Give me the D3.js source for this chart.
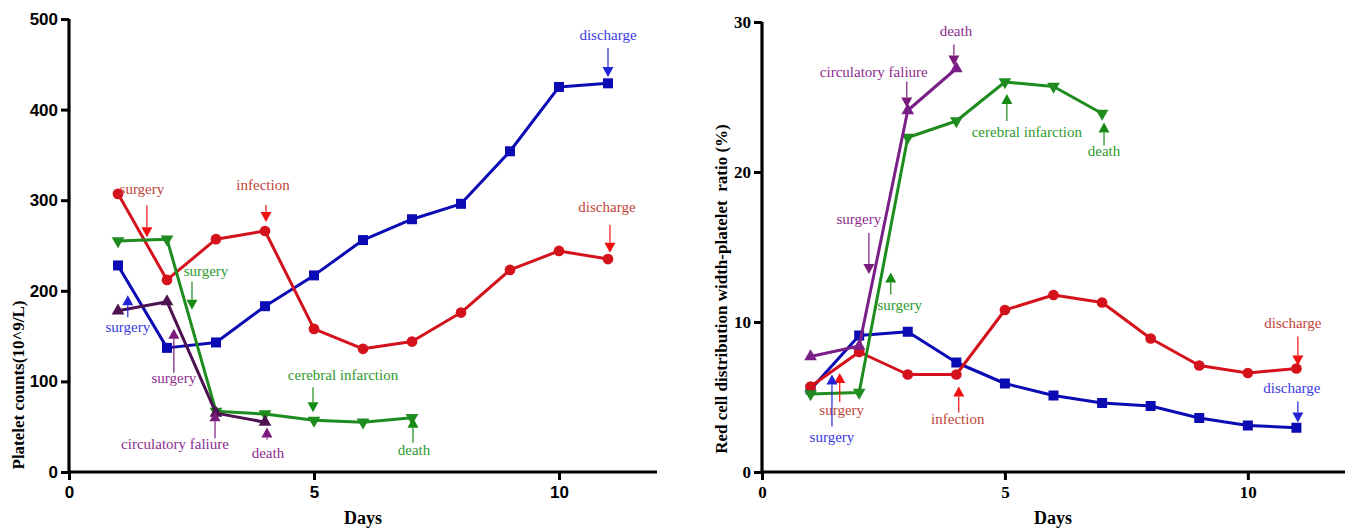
<!DOCTYPE html>
<html>
<head>
<meta charset="utf-8">
<script src="https://cdn.jsdelivr.net/npm/d3@7"></script>
<style>
  body { margin: 0; background: #fff; }
  svg text { font-family: "Liberation Serif", "Times New Roman", serif; }
</style>
</head>
<body>
<div id="chart"></div>
<script>
// ---- data ----
const days = [1, 2, 3, 4, 5, 6, 7, 8, 9, 10, 11];

// platelet counts (10^9/L)
const pltRed    = [307, 212, 257, 266, 158, 136, 144, 176, 223, 244, 235];
const pltBlue   = [228, 137, 143, 183, 217, 256, 279, 296, 354, 425, 429];
const pltGreen  = [255, 257, 67, 64, 57, 55, 60];
const pltPurple = [178, 188, 65, 55];

// RPR (%)
const rprRed    = [5.7, 8.0, 6.5, 6.5, 10.8, 11.8, 11.3, 8.9, 7.1, 6.6, 6.9];
const rprBlue   = [5.5, 9.1, 9.35, 7.3, 5.9, 5.1, 4.6, 4.4, 3.6, 3.1, 2.95];
const rprGreen  = [5.2, 5.3, 22.3, 23.4, 26.0, 25.7, 23.9];
const rprPurple = [7.7, 8.4, 24.1, 26.9];

const leftTicks = [0, 100, 200, 300, 400, 500];
const rightTicks = [0, 10, 20, 30];
const dayTicks = [0, 5, 10];

// annotations: tip at (day, value), arrow length, text offset from tip (px)
const leftNotes = [
  ["red", "surgery", 1.59, 259, "down", 32, -5, -43],
  ["red", "infection", 4.02, 276, "down", 17, -3, -32],
  ["red", "discharge", 11.04, 242, "down", 28, -3, -41],
  ["blue", "discharge", 11.0, 436, "down", 29, 0, -37],
  ["green", "surgery", 2.51, 179, "down", 28, 14, -34],
  ["blue", "surgery", 1.2, 195, "up", 22, 0, 37],
  ["purple", "surgery", 2.14, 158, "up", 44, 0, 54],
  ["green", "cerebral infarction", 4.98, 66, "down", 25, 30, -32],
  ["green", "death", 7.02, 60, "up", 25, 1, 37],
  ["purple", "circulatory faliure", 2.98, 67, "up", 27, -40, 38],
  ["purple", "death", 4.04, 49, "up", 12, 1, 30]
];
const rightNotes = [
  ["purple", "death", 3.95, 27.1, "down", 21, 2, -30],
  ["purple", "circulatory faliure", 2.98, 24.3, "down", 26, -33, -31],
  ["green", "cerebral infarction", 5.04, 25.2, "up", 27, 20, 43],
  ["green", "death", 7.04, 23.3, "up", 23, 0, 33],
  ["purple", "surgery", 2.2, 13.2, "down", 41, -10, -50],
  ["green", "surgery", 2.65, 13.3, "up", 22, 9, 37],
  ["red", "surgery", 1.6, 6.6, "up", 29, 2, 42],
  ["blue", "surgery", 1.44, 6.5, "up", 52, 0, 67],
  ["red", "infection", 4.05, 5.7, "up", 26, -1, 37],
  ["red", "discharge", 11.03, 7.1, "down", 29, -5, -38],
  ["blue", "discharge", 11.03, 3.3, "down", 21, -6, -30]
];

const lineColors = { red: "#d3121c", blue: "#0b0bb4", green: "#1e8c1e", purple: "#4d1250" };
const textColors = { red: "#c0453a", blue: "#3a3ae0", green: "#2e9a2e", purple: "#8e2d8e" };
const arrowColors = { red: "#f01010", blue: "#2424d4", green: "#168c16", purple: "#7a1a7a" };

const svg = d3.select("#chart").append("svg")
  .attr("width", 1349)
  .attr("height", 530);

function drawPanel(opt) {
  const g = svg.append("g");
  const x = d3.scaleLinear().domain([0, 12]).range([opt.left, opt.right]);
  const y = d3.scaleLinear().domain([0, opt.max]).range([opt.bottom, opt.top]);

  // axes
  const xAxis = g.append("g")
    .attr("transform", "translate(0," + opt.bottom + ")")
    .call(d3.axisBottom(x).tickValues(dayTicks).tickSize(8).tickPadding(6));
  const yAxis = g.append("g")
    .attr("transform", "translate(" + opt.left + ",0)")
    .call(d3.axisLeft(y).tickValues(opt.ticks).tickSize(8).tickPadding(3));
  [xAxis, yAxis].forEach(a => {
    a.select(".domain").attr("stroke", "#000").attr("stroke-width", 3.2)
      .attr("d", a === xAxis ? "M" + opt.left + ",0H" + opt.right : "M0," + opt.bottom + "V" + opt.top);
    a.selectAll(".tick line").attr("stroke", "#000").attr("stroke-width", 3);
    a.selectAll(".tick text")
      .style("font-family", opt.tickFont)
      .style("font-weight", "bold")
      .style("font-size", "17px")
      .attr("fill", "#000");
  });

  g.append("text")
    .attr("transform", "translate(" + opt.titleX + "," + opt.titleY + ") rotate(-90)")
    .attr("text-anchor", "middle")
    .style("font-weight", "bold")
    .style("font-size", "17px")
    .style("white-space", "pre")
    .text(opt.yTitle);
  g.append("text")
    .attr("x", opt.daysX).attr("y", 524)
    .attr("text-anchor", "middle")
    .style("font-weight", "bold")
    .style("font-size", "18px")
    .text("Days");

  const line = d3.line().x(d => x(d[0])).y(d => y(d[1]));
  opt.series.forEach(s => {
    const pts = s.values.map((v, i) => [days[i], v]);
    g.append("path")
      .datum(pts)
      .attr("fill", "none")
      .attr("stroke", s.color)
      .attr("stroke-width", 3)
      .attr("stroke-linejoin", "round")
      .attr("d", line);
    g.selectAll(null)
      .data(pts)
      .join("path")
      .attr("transform", d => "translate(" + x(d[0]) + "," + y(d[1]) + ")" + (s.rot ? " rotate(" + s.rot + ")" : ""))
      .attr("fill", s.color)
      .attr("d", d3.symbol().type(s.shape).size(s.size));
  });

  // annotations
  opt.notes.forEach(n => {
    const [c, label, dx0, val, dir, len, tdx, tdy] = n;
    const tx = x(dx0), ty = y(val);
    const sgn = dir === "down" ? -1 : 1; // tail is above the tip for "down"
    const head = 10;
    g.append("line")
      .attr("x1", tx).attr("x2", tx)
      .attr("y1", ty + sgn * len).attr("y2", ty + sgn * head)
      .attr("stroke", arrowColors[c])
      .attr("stroke-width", 1.2);
    g.append("path")
      .attr("d", "M" + tx + "," + ty + "L" + (tx - 5.5) + "," + (ty + sgn * head) + "L" + (tx + 5.5) + "," + (ty + sgn * head) + "Z")
      .attr("fill", arrowColors[c]);
    g.append("text")
      .attr("x", tx + tdx).attr("y", ty + tdy)
      .attr("text-anchor", "middle")
      .attr("fill", textColors[c])
      .style("font-size", "15px")
      .text(label);
  });
}

drawPanel({
  left: 69, right: 657, top: 19, bottom: 472, max: 500,
  ticks: leftTicks, tickFont: "'Liberation Sans', Arial, sans-serif",
  yTitle: "Platelet counts(10^9/L)", titleX: 24, titleY: 385, daysX: 363,
  series: [
    { values: pltBlue, color: lineColors.blue, shape: d3.symbolSquare, size: 100 },
    { values: pltRed, color: lineColors.red, shape: d3.symbolCircle, size: 90 },
    { values: pltGreen, color: lineColors.green, shape: d3.symbolTriangle, size: 70, rot: 180 },
    { values: pltPurple, color: lineColors.purple, shape: d3.symbolTriangle, size: 70 }
  ],
  notes: leftNotes
});

drawPanel({
  left: 762, right: 1345, top: 22, bottom: 472, max: 30,
  ticks: rightTicks, tickFont: "'Liberation Serif', 'Times New Roman', serif",
  yTitle: "Red cell distribution width-platelet  ratio (%)", titleX: 727, titleY: 289, daysX: 1053,
  series: [
    { values: rprBlue, color: lineColors.blue, shape: d3.symbolSquare, size: 100 },
    { values: rprRed, color: lineColors.red, shape: d3.symbolCircle, size: 90 },
    { values: rprGreen, color: lineColors.green, shape: d3.symbolTriangle, size: 70, rot: 180 },
    { values: rprPurple, color: "#7b1f88", shape: d3.symbolTriangle, size: 70 }
  ],
  notes: rightNotes
});
</script>
</body>
</html>
